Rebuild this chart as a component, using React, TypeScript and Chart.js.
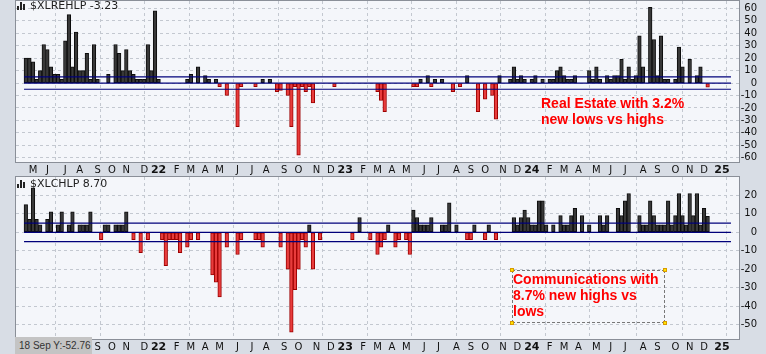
import React, { useEffect, useRef } from 'react';
import { Chart, registerables } from 'chart.js';

Chart.register(...registerables);

// ---- x axis: weekly slots (week index 0 = week of 19 Apr 2021) ----
const SLOTS = 197;
const monthTickWeeks = [
  2, 6, 11, 15, 20, 24, 28, 33,
  37, 42, 46, 50, 54, 59, 63, 67, 72, 76, 81, 85,
  89, 94, 98, 102, 106, 111, 115, 120, 124, 128, 133, 137,
  141, 146, 150, 154, 159, 163, 167, 172, 176, 181, 185, 189,
  194,
];
const monthTickLabels = [
  'M', 'J', 'J', 'A', 'S', 'O', 'N', 'D',
  '22', 'F', 'M', 'A', 'M', 'J', 'J', 'A', 'S', 'O', 'N', 'D',
  '23', 'F', 'M', 'A', 'M', 'J', 'J', 'A', 'S', 'O', 'N', 'D',
  '24', 'F', 'M', 'A', 'M', 'J', 'J', 'A', 'S', 'O', 'N', 'D',
  '25',
];
const quarterGridWeeks = [11, 24, 37, 50, 63, 76, 89, 102, 115, 128, 141, 154, 167, 181, 194];

// ---- series ($XLREHLP and $XLCHLP weekly values) ----
const realEstateHL = [
  20, 20, 17, 3, 10, 31, 27, 13, 7, 7,
  3, 34, 55, 13, 41, 10, 10, 24, 3, 31,
  3, 0, 0, 7, 0, 31, 24, 10, 27, 10,
  7, 3, 3, 3, 31, 10, 58, 3, 0, 0,
  0, 0, 0, 0, 0, 3, 7, 0, 13, 0,
  6, 3, 0, 3, -3, 0, -10, 0, 0, -35,
  -3, 0, 0, 0, -3, 0, 3, 0, 3, 0,
  -7, -6, 0, -10, -35, -3, -58, -3, -7, -3,
  -16, 0, 0, 0, 0, 0, -3, 0, 0, 0,
  0, 0, 0, 0, 0, 0, 0, 0, -7, -14,
  -23, 0, 0, 0, 0, 0, 0, 0, -3, -3,
  3, 0, 6, -3, 3, 0, 3, 0, 0, -7,
  0, -3, 0, 6, 0, 0, -23, 0, -13, 0,
  -10, -29, 6, 0, 0, 3, 13, 3, 6, 3,
  0, 3, 6, 0, 3, 0, 3, 3, 10, 13,
  6, 3, 3, 6, 0, 0, 0, 10, 3, 13,
  3, 0, 6, 3, 6, 6, 19, 3, 13, 3,
  6, 38, 13, 0, 61, 35, 6, 38, 3, 3,
  0, 3, 29, 13, 0, 19, 0, 6, 13, 0,
  -3.23,
];

const communicationsHL = [
  15, 7, 24, 7, 4, 0, 7, 11, 0, 4,
  11, 0, 4, 11, 0, 4, 4, 4, 11, 0,
  0, -4, 4, 4, 0, 4, 4, 4, 11, 0,
  -4, 0, -11, 0, -4, 0, 0, 0, -4, -18,
  -4, -4, -4, -11, 0, -8, -4, 0, -4, 0,
  0, 0, -23, -27, -35, 0, -8, 0, 0, -12,
  -4, 0, 0, 0, -4, -4, -8, 0, 0, 0,
  0, -8, 0, -20, -54, -31, -20, -4, -8, 4,
  -20, 0, -4, 0, 0, 0, 0, 0, 0, 0,
  0, -4, 0, 8, 0, 0, -4, 0, -12, -8,
  -4, 4, 0, -8, -4, 0, -4, -12, 12, 8,
  4, 4, 4, 8, 0, 0, 4, 4, 16, 0,
  4, 0, 0, -4, -4, 4, 0, 0, -4, 4,
  0, -4, 0, 0, 0, 0, 8, 4, 8, 12,
  8, 4, 4, 17, 17, 4, 0, 4, 0, 9,
  4, 4, 9, 13, 0, 9, 0, 4, 0, 0,
  9, 4, 9, 0, 0, 13, 9, 17, 21, 0,
  0, 9, 4, 4, 17, 9, 4, 4, 4, 17,
  4, 9, 21, 9, 4, 21, 9, 21, 4, 13,
  8.7,
];

const refLevels = [5, 0, -5];

const GRAY_FILL = '#383838';
const GRAY_EDGE = '#0c0c0c';
const RED_FILL = '#e83c3c';
const RED_EDGE = '#9c0000';
const NAVY = '#00007a';
const PLOT_BG = '#f4f6fa';
const OUTER_BG = '#d8dde5';
const FRAME = '#8a8f98';
const GRID = '#c3c8d0';
const FONT = '"DejaVu Sans", Verdana, sans-serif';

const panelPlugin = {
  id: 'panelFrame',
  beforeDraw(chart: any) {
    const { ctx, chartArea: a } = chart;
    ctx.save();
    ctx.fillStyle = PLOT_BG;
    ctx.fillRect(a.left, a.top, a.right - a.left, a.bottom - a.top);
    ctx.restore();
  },
  afterDraw(chart: any) {
    const { ctx, chartArea: a } = chart;
    ctx.save();
    ctx.strokeStyle = FRAME;
    ctx.lineWidth = 1;
    ctx.strokeRect(Math.round(a.left) - 0.5, Math.round(a.top) - 0.5, Math.round(a.right - a.left) + 1, Math.round(a.bottom - a.top) + 1);
    ctx.restore();
  },
};

function makeConfig(values: number[], yMin: number, yMax: number, padTop: number, xAxisH: number): any {
  return {
    type: 'bar',
    data: {
      datasets: [
        ...refLevels.map((v) => ({
          type: 'line',
          data: [{ x: 0, y: v }, { x: SLOTS, y: v }],
          borderColor: NAVY,
          borderWidth: 1.2,
          pointRadius: 0,
          order: 0,
          xAxisID: 'x',
          yAxisID: 'y',
        })),
        {
          type: 'bar',
          data: values.map((v, i) => ({ x: i + 0.5, y: v === 0 ? null : v })),
          backgroundColor: (c: any) => (c.raw && c.raw.y < 0 ? RED_FILL : GRAY_FILL),
          borderColor: (c: any) => (c.raw && c.raw.y < 0 ? RED_EDGE : GRAY_EDGE),
          borderWidth: 1,
          borderSkipped: false,
          barPercentage: 1,
          categoryPercentage: 1,
          order: 1,
          xAxisID: 'x',
          yAxisID: 'y',
        },
      ],
    },
    options: {
      animation: false,
      responsive: false,
      maintainAspectRatio: false,
      layout: { padding: { left: 16, right: 9, top: padTop, bottom: 0 } },
      plugins: { legend: { display: false }, tooltip: { enabled: false } },
      scales: {
        x: {
          type: 'linear',
          position: 'bottom',
          min: 0,
          max: SLOTS,
          afterBuildTicks: (s: any) => {
            s.ticks = monthTickWeeks.map((w) => ({ value: w + 0.5 }));
          },
          afterFit: (s: any) => {
            s.height = xAxisH;
            s.paddingLeft = 0;
            s.paddingRight = 0;
          },
          grid: { display: false, drawTicks: false },
          border: { display: false },
          ticks: {
            autoSkip: false,
            maxRotation: 0,
            minRotation: 0,
            padding: 2,
            color: '#111',
            callback: (_v: any, i: number) => monthTickLabels[i],
            font: (c: any) => {
              const isYear = (monthTickLabels[c.index] || '').length === 2;
              return { family: FONT, size: isYear ? 11 : 10, weight: isYear ? 'bold' : 'normal' };
            },
          },
        },
        xg: {
          type: 'linear',
          axis: 'x',
          position: 'bottom',
          min: 0,
          max: SLOTS,
          afterBuildTicks: (s: any) => {
            s.ticks = quarterGridWeeks.map((w) => ({ value: w }));
          },
          afterFit: (s: any) => {
            s.height = 0;
            s.paddingLeft = 0;
            s.paddingRight = 0;
          },
          grid: { color: GRID, drawTicks: false, lineWidth: 1 },
          border: { display: false, dash: [3, 3] },
          ticks: { display: false },
        },
        y: {
          type: 'linear',
          position: 'right',
          min: yMin,
          max: yMax,
          afterFit: (s: any) => {
            s.width = 18;
            s.paddingTop = 0;
            s.paddingBottom = 0;
          },
          grid: { color: GRID, drawTicks: false, lineWidth: 1 },
          border: { display: false, dash: [3, 3] },
          ticks: {
            stepSize: 10,
            autoSkip: false,
            includeBounds: false,
            padding: 1,
            crossAlign: 'far',
            color: '#111',
            font: { family: FONT, size: 10 },
          },
        },
      },
    },
    plugins: [panelPlugin],
  };
}

function Panel({ values, yMin, yMax, top, height, padTop, xAxisH }: any) {
  const ref = useRef<HTMLCanvasElement | null>(null);
  useEffect(() => {
    if (!ref.current) return;
    const chart = new Chart(ref.current, makeConfig(values, yMin, yMax, padTop, xAxisH));
    return () => chart.destroy();
  }, []);
  return (
    <canvas
      ref={ref}
      width={766}
      height={height}
      style={{ position: 'absolute', left: 0, top, width: 766, height, display: 'block' }}
    />
  );
}

function Header({ top, text }: { top: number; text: string }) {
  const bars = [4, 8, 6];
  return (
    <div
      style={{
        position: 'absolute',
        left: 17,
        top,
        height: 12,
        display: 'flex',
        alignItems: 'flex-end',
        fontFamily: FONT,
        fontSize: 11,
        lineHeight: '12px',
        color: '#222',
        whiteSpace: 'nowrap',
      }}
    >
      <span style={{ display: 'inline-flex', alignItems: 'flex-end', height: 9, marginRight: 4, marginBottom: 2 }}>
        {bars.map((h, i) => (
          <span key={i} style={{ display: 'inline-block', width: 2, height: h, background: '#222', marginRight: 1 }} />
        ))}
      </span>
      <span>{text}</span>
    </div>
  );
}

const handle = (left: number, top: number) => (
  <div
    style={{
      position: 'absolute',
      left: left - 2,
      top: top - 2,
      width: 4,
      height: 4,
      background: '#ffe400',
      border: '1px solid #d89a00',
      boxSizing: 'border-box',
    }}
  />
);

export default function App() {
  const noteStyle: any = {
    position: 'absolute',
    color: '#ff0000',
    fontFamily: '"Liberation Sans", Arial, sans-serif',
    fontWeight: 'bold',
    fontSize: 14,
    lineHeight: '16px',
    whiteSpace: 'nowrap',
  };
  return (
    <div
      style={{
        position: 'fixed',
        left: 0,
        top: 0,
        width: 766,
        height: 354,
        background: OUTER_BG,
        overflow: 'hidden',
      }}
    >
      <Panel values={realEstateHL} yMin={-63.5} yMax={66} top={0} height={176} padTop={1} xAxisH={14} />
      <Panel values={communicationsHL} yMin={-57.7} yMax={29.9} top={176} height={178} padTop={1} xAxisH={15} />

      <Header top={0} text="$XLREHLP -3.23" />
      <Header top={178} text="$XLCHLP 8.70" />

      <div style={{ ...noteStyle, left: 541, top: 95 }}>
        Real Estate with 3.2%
        <br />
        new lows vs highs
      </div>

      <div
        style={{
          position: 'absolute',
          left: 512,
          top: 270,
          width: 153,
          height: 53,
          border: '1px dashed #777',
          boxSizing: 'border-box',
        }}
      />
      <div style={{ ...noteStyle, left: 513, top: 271 }}>
        Communications with
        <br />
        8.7% new highs vs
        <br />
        lows
      </div>
      {handle(512, 270)}
      {handle(665, 270)}
      {handle(512, 323)}
      {handle(665, 323)}

      <div
        style={{
          position: 'absolute',
          left: 15,
          top: 337,
          width: 77,
          height: 17,
          background: '#c4c4c4',
          color: '#333',
          fontFamily: '"Liberation Sans", Arial, sans-serif',
          fontSize: 10,
          lineHeight: '17px',
          paddingLeft: 4,
          boxSizing: 'border-box',
          whiteSpace: 'nowrap',
        }}
      >
        18 Sep Y:-52.76
      </div>
    </div>
  );
}
